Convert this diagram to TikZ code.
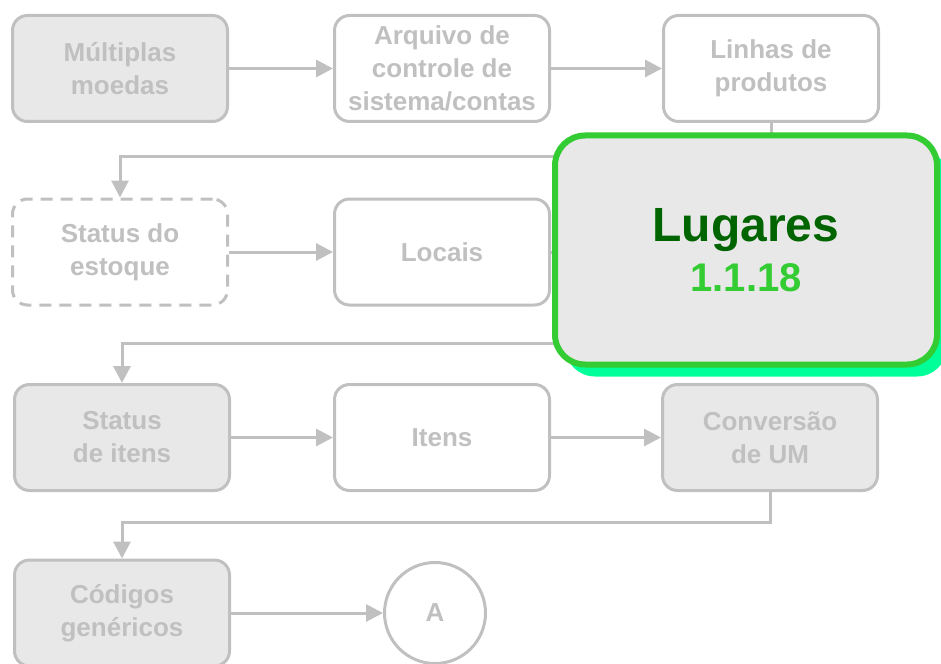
\documentclass[tikz,border=0pt]{standalone}
\usepackage{fontspec}
\setmainfont{Liberation Sans}
\usetikzlibrary{arrows.meta,shadows}
\definecolor{gc}{HTML}{C0C0C0}
\definecolor{gfill}{HTML}{E8E8E8}
\definecolor{dgreen}{HTML}{006400}
\definecolor{lgreen}{HTML}{33CC33}
\definecolor{sgreen}{HTML}{00FF99}
\tikzset{
  box/.style={draw=gc, line width=3pt, rounded corners=15pt, minimum width=215pt,
    minimum height=106pt, text=gc, align=center, inner sep=0pt,
    font=\fontsize{26}{33}\selectfont\bfseries},
  gbox/.style={box, fill=gfill},
  wbox/.style={box, fill=white},
  conn/.style={draw=gc, line width=3pt, -{Triangle[length=17pt,width=17pt]}},
}
\begin{document}
\begin{tikzpicture}[x=1pt,y=-1pt]
\useasboundingbox (0,0) rectangle (941,663);
\node[gbox] (m1) at (120,68.5) {Múltiplas\\moedas};
\node[wbox] (m2) at (442,68.5) {Arquivo de\\controle de\\sistema/contas};
\node[wbox] (m3) at (771,68.5) {Linhas de\\produtos};
\node[wbox, dash pattern=on 12pt off 8pt] (s1) at (120,252) {Status do\\estoque};
\node[wbox] (s2) at (442,252) {Locais};
\coordinate (lug) at (771,252);
\node[gbox] (t1) at (122,437.5) {Status\\de itens};
\node[wbox] (t2) at (442,437.5) {Itens};
\node[gbox] (t3) at (770,437.5) {Conversão\\de UM};
\node[gbox] (c1) at (122,613) {Códigos\\genéricos};
\node[draw=gc, line width=3pt, fill=white, circle, minimum size=101pt, inner sep=0pt,
  text=gc, font=\fontsize{26}{33}\selectfont\bfseries] (A) at (435,613) {A};

\draw[conn] (m1) -- (m2);
\draw[conn] (m2) -- (m3);
\draw[conn] (m3.south) |- (120,157) -- (s1.north);
\draw[conn] (s1) -- (s2);
\draw[conn] (s2) -- (lug);
\draw[conn] (lug) |- (122,343) -- (t1.north);
\draw[conn] (t1) -- (t2);
\draw[conn] (t2) -- (t3);
\draw[conn] (t3.south) |- (122,522) -- (c1.north);
\draw[conn] (c1) -- (A);

\node[draw=lgreen, line width=6pt, fill=gfill, rounded corners=30pt,
  minimum width=382pt, minimum height=229pt, inner sep=0pt, align=center,
  font=\fontsize{40}{50}\selectfont\bfseries,
  drop shadow={shadow xshift=10pt, shadow yshift=-12pt, fill=sgreen, opacity=1}]
  (L) at (746,250)
  {{\fontsize{48}{50}\selectfont\color{dgreen}Lugares}\\
   {\color{lgreen}1.1.18}};
\end{tikzpicture}
\end{document}
